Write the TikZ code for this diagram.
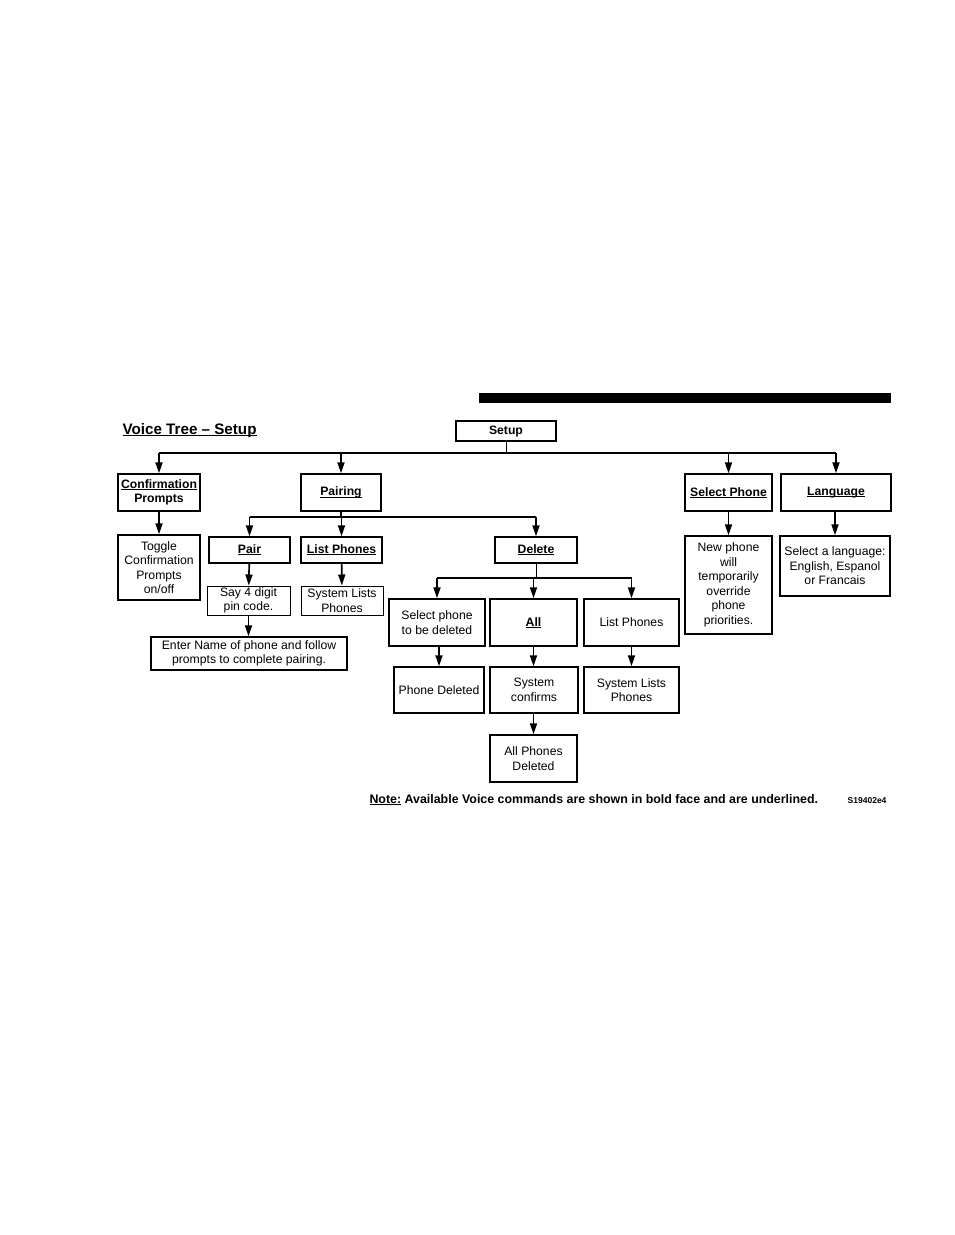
\documentclass[tikz,border=0pt]{standalone}
\usepackage{fontspec}
\setmainfont{Liberation Sans}
\usetikzlibrary{arrows.meta}
\newcommand\myul[1]{\setbox0\hbox{#1}\rlap{\rule[-1.8pt]{\wd0}{0.9pt}}\box0\relax}
\begin{document}
\begin{tikzpicture}[x=1pt,y=-1pt,
  box/.style={draw,line width=1.4pt,inner sep=0pt,align=center,font=\fontsize{12.2}{14.5}\selectfont},
  bbox/.style={box,font=\fontsize{12.2}{14.5}\selectfont\bfseries},
  conn/.style={line width=1.7pt},
  arr/.style={line width=1.7pt,-{Triangle[width=7pt,length=11pt]}}]
\useasboundingbox (0,0) rectangle (954,1235);
\fill (479,393) rectangle (891,403);
\node[anchor=base west,font=\fontsize{15.2}{18}\selectfont\bfseries] (title) at (119,434) {\myul{Voice Tree -- Setup}};

\node[bbox,minimum width=100,minimum height=20] (setup) at (506,431) {Setup};
\node[bbox,minimum width=82,minimum height=37] (conf) at (159,492.5) {\myul{Confirmation}\\Prompts};
\node[bbox,minimum width=80,minimum height=37] (pairing) at (341,492.5) {\myul{Pairing}};
\node[bbox,minimum width=87,minimum height=37] (selph) at (728.5,492.5) {\myul{Select Phone}};
\node[bbox,minimum width=110,minimum height=37] (lang) at (836,492.5) {\myul{Language}};

\node[box,minimum width=82,minimum height=65] (toggle) at (159,567.5) {Toggle\\Confirmation\\Prompts\\on/off};
\node[bbox,minimum width=81,minimum height=26] (pair) at (249.5,550) {\myul{Pair}};
\node[bbox,minimum width=81,minimum height=26] (listph) at (341.5,550) {\myul{List Phones}};
\node[bbox,minimum width=82,minimum height=26] (delete) at (536,550) {\myul{Delete}};
\node[box,line width=1pt,minimum width=83,minimum height=29] (say) at (248.5,600.5) {Say 4 digit\\pin code.};
\node[box,line width=1pt,minimum width=82,minimum height=29] (syslist1) at (342,600.5) {System Lists\\Phones};
\node[box,minimum width=196,minimum height=33] (enter) at (249,653.5) {Enter Name of phone and follow\\prompts to complete pairing.};

\node[box,minimum width=96,minimum height=47] (selphone) at (437,622.5) {Select phone\\to be deleted};
\node[bbox,minimum width=87,minimum height=47] (all) at (533.5,622.5) {\myul{All}};
\node[box,minimum width=95,minimum height=47] (listph2) at (631.5,622.5) {List Phones};
\node[box,minimum width=90,minimum height=46] (phdel) at (439,690) {Phone Deleted};
\node[box,minimum width=88,minimum height=46] (sysconf) at (534,690) {System\\confirms};
\node[box,minimum width=95,minimum height=46] (syslist2) at (631.5,690) {System Lists\\Phones};
\node[box,minimum width=87,minimum height=47] (alldel) at (533.5,758.5) {All Phones\\Deleted};

\node[box,minimum width=87,minimum height=98] (newph) at (728.5,585) {New phone\\will\\temporarily\\override\\phone\\priorities.};
\node[box,minimum width=110,minimum height=60] (sellang) at (835,566) {Select a language:\\English, Espanol\\or Francais};

\node[anchor=base west,font=\fontsize{12.4}{14}\selectfont\bfseries] (note) at (366,803) {\myul{Note:} Available Voice commands are shown in bold face and are underlined.};
\node[anchor=base east,font=\fontsize{8.5}{9}\selectfont\bfseries] (code) at (890,803) {S19402e4};

% Setup branches
\draw[conn,line width=1pt] (setup.south) -- (setup.south |- 0,453) coordinate (j1);
\draw[conn] (conf.north |- j1) -- (lang.north |- j1);
\foreach \n in {conf,pairing,selph,lang} \draw[arr] (\n.north |- j1) -- (\n.north);

% Pairing branches
\draw[conn] (pairing.south) -- (pairing.south |- 0,517) coordinate (j2);
\draw[conn] (pair.north |- j2) -- (delete.north |- j2);
\foreach \n in {pair,listph,delete} \draw[arr] (\n.north |- j2) -- (\n.north);

% Delete branches
\draw[conn,line width=1pt] (delete.south) -- (delete.south |- 0,578) coordinate (j3);
\draw[conn] (selphone.north |- j3) -- (listph2.north |- j3);
\foreach \n in {selphone,all,listph2} \draw[arr] (\n.north |- j3) -- (\n.north);

\draw[arr] (conf) -- (toggle);
\draw[arr] (pair) -- (say);
\draw[arr] (listph) -- (syslist1);
\draw[arr] (say) -- (say |- enter.north);
\draw[arr] (selphone.south -| phdel) -- (phdel);
\draw[arr] (all) -- (all |- sysconf.north);
\draw[arr] (listph2) -- (syslist2);
\draw[arr] (sysconf.south -| alldel) -- (alldel);
\draw[arr] (selph) -- (newph);
\draw[arr] (lang.south -| sellang) -- (sellang);
\end{tikzpicture}
\end{document}
